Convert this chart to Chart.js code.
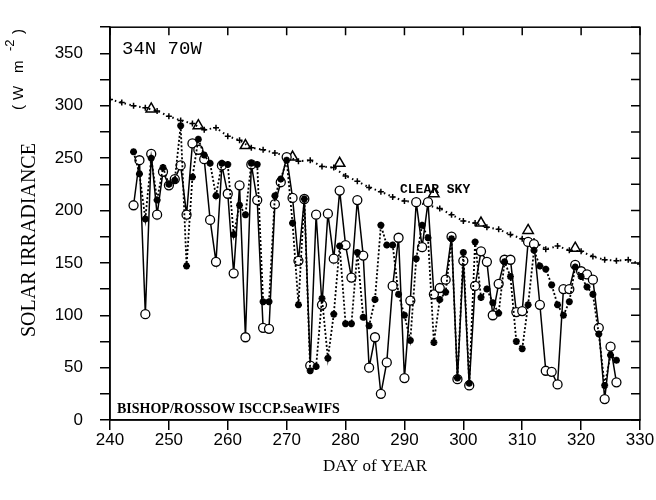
<!DOCTYPE html>
<html>
<head>
<meta charset="utf-8">
<script src="https://cdn.jsdelivr.net/npm/chart.js@4.4.0/dist/chart.umd.min.js"></script>
<style>
  html, body { margin: 0; padding: 0; background: #fff; }
  #wrap { width: 656px; height: 500px; }
</style>
</head>
<body>
<div id="wrap"><canvas id="irr" width="656" height="500"></canvas></div>
<script>
// daily series start on day 244 and run one value per day to day 326
const firstDay = 244;

// open circles, solid line
const seawifs = [
  205, 248, 101, 254, 196, 237, 224, 230, 243, 196,
  264, 258, 249, 191, 151, 243, 216, 140, 224, 79,
  244, 210, 88, 87, 206, 227, 251, 212, 152, 211,
  52, 196, 110, 197, 154, 219, 167, 136, 210, 157,
  50, 79, 25, 55, 128, 174, 40, 114, 208, 165,
  208, 120, 126, 134, 175, 39, 152, 33, 128, 161,
  151, 100, 130, 153, 153, 103, 104, 170, 168, 110,
  47, 46, 34, 125, 125, 148, 142, 139, 134, 88,
  20, 70, 36
];

// asterisks, dotted line
const isccp = [
  256, 235, 192, 250, 210, 241, 225, 229, 281, 147,
  232, 268, 253, 245, 214, 245, 244, 177, 205, 196,
  245, 244, 113, 113, 214, 230, 248, 188, 110, 211,
  47, 51, 116, 59, 101, 166, 92, 92, 160, 98,
  90, 115, 186, 167, 167, 120, 100, 76, 154, 186,
  174, 74, 115, 122, 173, 40, 160, 35, 170, 117,
  125, 112, 102, 151, 137, 75, 68, 110, 162, 147,
  144, 129, 110, 100, 113, 146, 137, 127, 120, 82,
  33, 62, 57
];

// clear sky curve (+ marks)
const clearDays = [240, 242, 244, 246, 248, 250, 252, 254, 256, 258, 260, 262, 264, 266, 268,
  270, 272, 274, 276, 278, 280, 282, 284, 286, 288, 290, 292, 294, 296, 298,
  300, 302, 304, 306, 308, 310, 312, 314, 316, 318, 320, 322, 324, 326, 328, 330];
const clearSky = [306, 303, 300, 298, 295, 290, 286, 283, 277, 279, 271, 267, 260, 258, 255,
  252, 247, 248, 242, 241, 233, 228, 222, 218, 213, 209, 208, 205, 202, 196,
  190, 188, 184, 182, 177, 173, 171, 163, 166, 162, 161, 156, 153, 152, 153, 149];

// clear sky check points (triangles)
const triDays = [247, 255, 263, 271, 279, 295, 303, 311, 319];
const triVals = [297, 281, 262, 251, 245, 216, 188, 181, 164];

const xTicks = { min: 240, max: 330, step: 10 };
const yTicks = { min: 0, max: 375, step: 25, labelEvery: 50 };

const toPoints = (vals, days) => vals.map((v, i) => ({ x: days ? days[i] : firstDay + i, y: v }));

// frame, inward ticks on top/right and the text on the plot
const framePlugin = {
    id: 'frame',
    afterDraw(chart) {
        const { ctx, chartArea: a, scales: { x, y } } = chart;
        ctx.save();
        ctx.strokeStyle = '#000';
        ctx.lineWidth = 1.5;
        ctx.strokeRect(a.left, a.top, a.right - a.left, a.bottom - a.top);
        ctx.beginPath();
        x.ticks.forEach(t => {
            const px = x.getPixelForValue(t.value);
            ctx.moveTo(px, a.top);
            ctx.lineTo(px, a.top + 8);
        });
        y.ticks.forEach(t => {
            const py = y.getPixelForValue(t.value);
            ctx.moveTo(a.right, py);
            ctx.lineTo(a.right - 9, py);
        });
        ctx.stroke();

        ctx.fillStyle = '#000';
        ctx.textBaseline = 'alphabetic';
        ctx.textAlign = 'left';
        ctx.font = '19px "Liberation Mono"';
        ctx.fillText('34N 70W', a.left + 12, a.top + 27);
        ctx.font = 'bold 13px "Liberation Mono"';
        ctx.fillText('CLEAR SKY', a.left + 290, a.top + 166);
        ctx.font = 'bold 14px "Liberation Serif"';
        ctx.fillText('BISHOP/ROSSOW ISCCP.SeaWIFS', a.left + 7, a.bottom - 7);

        ctx.textAlign = 'center';
        ctx.font = '17px "Liberation Serif"';
        ctx.fillText('DAY of YEAR', (a.left + a.right) / 2, 471);

        // rotated y title
        ctx.translate(35, 337);
        ctx.rotate(-Math.PI / 2);
        ctx.textAlign = 'left';
        ctx.font = '20px "Liberation Serif"';
        ctx.fillText('SOLAR IRRADIANCE', 0, 0);
        ctx.font = '15px "Liberation Sans"';
        ctx.fillText('(', 227, -12);
        ctx.fillText('W', 237, -12);
        ctx.fillText('m', 264, -12);
        ctx.fillText(')', 303, -12);
        ctx.font = '13px "Liberation Sans"';
        ctx.fillText('-2', 286, -21);
        ctx.restore();
    }
};

new Chart(document.getElementById('irr'), {
    type: 'line',
    data: {
        datasets: [{
            label: 'ISCCP',
            data: toPoints(isccp),
            borderColor: '#000',
            borderWidth: 1.8,
            borderDash: [2, 2],
            pointStyle: 'star',
            pointRadius: 3.5,
            pointBorderWidth: 2.2,
            pointBorderColor: '#000',
            tension: 0
        }, {
            label: 'SeaWiFS',
            data: toPoints(seawifs),
            borderColor: '#000',
            borderWidth: 1.5,
            pointStyle: 'circle',
            pointRadius: 4.5,
            pointBorderWidth: 1.3,
            pointBorderColor: '#000',
            pointBackgroundColor: '#fff',
            tension: 0
        }, {
            label: 'Clear sky',
            data: toPoints(clearSky, clearDays),
            borderColor: '#000',
            borderWidth: 2,
            borderDash: [1.5, 3.5],
            pointStyle: 'cross',
            pointRadius: 3,
            pointBorderWidth: 1.5,
            pointBorderColor: '#000',
            tension: 0
        }, {
            label: 'Clear sky points',
            data: toPoints(triVals, triDays),
            showLine: false,
            pointStyle: 'triangle',
            pointRadius: 6,
            pointBorderWidth: 1.5,
            pointBorderColor: '#000',
            pointBackgroundColor: '#fff'
        }]
    },
    options: {
        responsive: false,
        animation: false,
        layout: { padding: { top: 16, right: 16, left: 0, bottom: 0 } },
        plugins: { legend: { display: false }, tooltip: { enabled: false } },
        scales: {
            x: {
                type: 'linear',
                min: xTicks.min,
                max: xTicks.max,
                afterFit(s) { s.height = 80; },
                border: { display: true, color: '#000', width: 1.5 },
                grid: { drawOnChartArea: false, drawTicks: true, tickLength: 10, color: '#000', lineWidth: 1.5 },
                ticks: { stepSize: xTicks.step, color: '#000', padding: 0, maxRotation: 0,
                    font: { family: '"Liberation Sans"', size: 17 } }
            },
            y: {
                min: yTicks.min,
                max: yTicks.max,
                afterFit(s) { s.width = 110; },
                border: { display: true, color: '#000', width: 1.5 },
                grid: { drawOnChartArea: false, drawTicks: true, tickLength: 10, color: '#000', lineWidth: 1.5 },
                ticks: { stepSize: yTicks.step, color: '#000', padding: 17,
                    font: { family: '"Liberation Sans"', size: 17 },
                    callback: v => (v % yTicks.labelEvery === 0 && v < yTicks.max) ? v : '' }
            }
        }
    },
    plugins: [framePlugin]
});
</script>
</body>
</html>
